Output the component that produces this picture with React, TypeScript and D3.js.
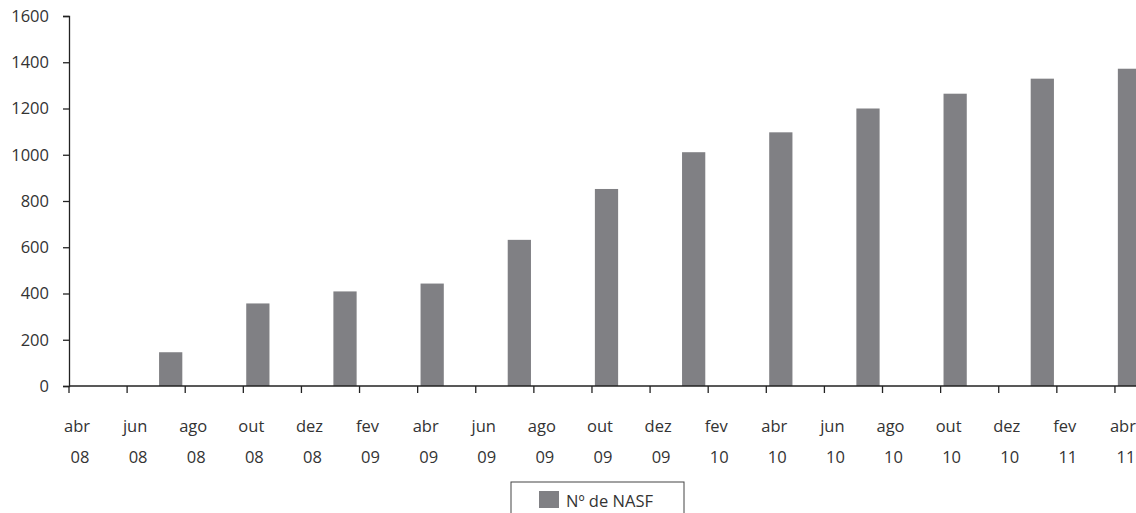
import React, { useEffect, useRef } from 'react'
import * as d3 from 'd3'

// monthly categories on the x axis (abr 08 .. abr 11)
const monthNames = ['abr', 'mai', 'jun', 'jul', 'ago', 'set', 'out', 'nov', 'dez', 'jan', 'fev', 'mar']
const months: string[] = []
for (let i = 0; i < 37; i++) {
  const m = monthNames[i % 12]
  const yr = 8 + Math.floor((i + 3) / 12)
  months.push(m + ' ' + String(yr).padStart(2, '0'))
}

// months that have a bar, and their values
const barMonths = ['jul 08', 'out 08', 'jan 09', 'abr 09', 'jul 09', 'out 09', 'jan 10', 'abr 10', 'jul 10', 'out 10', 'jan 11', 'abr 11']
const nasf = [146, 357, 409, 443, 632, 852, 1011, 1097, 1200, 1264, 1329, 1372]

const yTicks = [0, 200, 400, 600, 800, 1000, 1200, 1400, 1600]
const seriesName = 'Nº de NASF'

const W = 1136
const H = 513
const FONT = '"Open Sans", "DejaVu Sans", sans-serif'
const BAR = '#808084'
const INK = '#333'

export default function App() {
  const ref = useRef<SVGSVGElement>(null)

  useEffect(() => {
    const svg = d3.select(ref.current)
    svg.selectAll('*').remove()

    const x = d3.scaleBand<string>()
      .domain(months)
      .range([69, 1144])
      .paddingInner(0.2)
      .paddingOuter(0.1)
    const step = x.step()
    const off = step * 0.1 // band start -> tick position

    const y = d3.scaleLinear().domain([0, 1600]).range([386, 16])

    // bars
    svg.append('g')
      .selectAll('rect')
      .data(barMonths.map((m, i) => ({ m, v: nasf[i] })))
      .enter()
      .append('rect')
      .attr('x', d => x(d.m)!)
      .attr('y', d => y(d.v))
      .attr('width', x.bandwidth())
      .attr('height', d => y(0) - y(d.v))
      .attr('fill', BAR)

    // y axis
    const ya = svg.append('g')
      .attr('transform', 'translate(69,0)')
      .call(d3.axisLeft(y).tickValues(yTicks).tickSize(6).tickPadding(14).tickFormat(d3.format('d')))
    ya.select('.domain').attr('stroke', '#222').attr('stroke-width', 1.3)
    ya.selectAll('.tick line').attr('stroke', '#222').attr('stroke-width', 1.3)
    ya.selectAll('.tick text')
      .attr('font-family', FONT)
      .attr('font-size', 16.5)
      .attr('fill', INK)

    // x axis line
    svg.append('line')
      .attr('x1', 69).attr('x2', W)
      .attr('y1', y(0)).attr('y2', y(0))
      .attr('stroke', '#222').attr('stroke-width', 1.3)

    const labelled = months.filter((_, i) => i % 2 === 0)
    const xt = svg.append('g')
      .selectAll('g')
      .data(labelled)
      .enter()
      .append('g')
      .attr('transform', d => `translate(${x(d)! - off},0)`)
    xt.append('line')
      .attr('y1', y(0)).attr('y2', y(0) + 7)
      .attr('stroke', '#222').attr('stroke-width', 1.3)
    xt.append('text')
      .attr('x', 8).attr('y', 432)
      .attr('text-anchor', 'middle')
      .attr('font-family', FONT).attr('font-size', 16.5).attr('fill', INK)
      .text(d => d.split(' ')[0])
    xt.append('text')
      .attr('x', 11).attr('y', 463)
      .attr('text-anchor', 'middle')
      .attr('font-family', FONT).attr('font-size', 16.5).attr('fill', INK)
      .text(d => d.split(' ')[1])

    // legend
    const lg = svg.append('g').attr('transform', 'translate(511,482)')
    lg.append('rect')
      .attr('width', 173).attr('height', 40)
      .attr('fill', 'white').attr('stroke', '#444').attr('stroke-width', 1)
    lg.append('rect')
      .attr('x', 28).attr('y', 9).attr('width', 20).attr('height', 17)
      .attr('fill', BAR)
    lg.append('text')
      .attr('x', 55).attr('y', 25)
      .attr('font-family', FONT).attr('font-size', 16.5).attr('fill', INK)
      .text(seriesName)
  }, [])

  return (
    <svg ref={ref} width={W} height={H}
      style={{ position: 'absolute', left: 0, top: 0, background: 'white' }} />
  )
}
